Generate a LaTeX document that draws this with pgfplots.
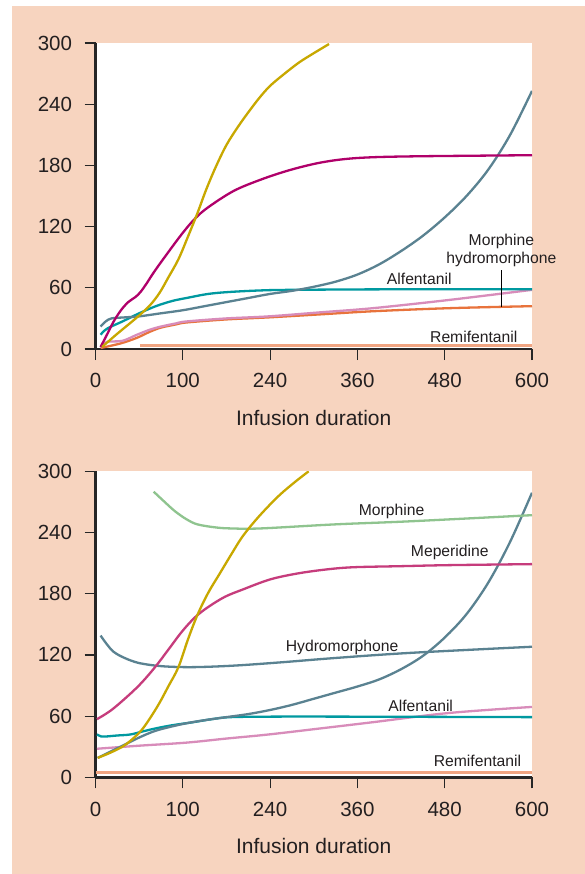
\documentclass[border=0pt]{standalone}
\usepackage{pgfplots}
\pgfplotsset{compat=1.18}
\usepackage{fontspec}
\setmainfont{Liberation Sans}
\definecolor{peach}{HTML}{F7D4BF}
\definecolor{textgray}{HTML}{231F20}
\definecolor{cyel}{HTML}{C8A800}
\definecolor{cmag}{HTML}{B0006A}
\definecolor{cmep}{HTML}{C63C7C}
\definecolor{cgray}{HTML}{5A8291}
\definecolor{cteal}{HTML}{0099A0}
\definecolor{cpink}{HTML}{D88CBA}
\definecolor{corange}{HTML}{E8733C}
\definecolor{cremi}{HTML}{F0A582}
\definecolor{cgreen}{HTML}{8FC48F}
\tikzset{lab/.style={font=\fontsize{15.7}{18}\selectfont, text=textgray}}
\pgfplotsset{
 myax/.style={
  scale only axis, width=436.5pt, height=306pt,
  xmin=0, xmax=600, ymin=0, ymax=300,
  clip mode=individual,
  axis lines=left, axis line style={-, line width=2.4pt, color=black!85},
  xtick={0,120,240,360,480,600}, xticklabels={0,100,240,360,480,600},
  ytick={0,60,120,180,240,300},
  tick align=outside, major tick length=11pt,
  tick style={line width=1.2pt, color=black!85},
  axis background/.style={fill=white},
  ticklabel style={font=\fontsize{20.5}{24}\selectfont, text=textgray},
  yticklabel style={xshift=-9pt},
  xticklabel style={yshift=-10pt},
  /pgf/number format/assume math mode=true,
  xlabel={Infusion duration},
  xlabel style={font=\fontsize{21}{24}\selectfont, text=textgray, yshift=-15pt},
  every axis plot/.append style={line width=2.3pt, smooth, tension=0.55},
 },
}
\begin{document}
\begin{tikzpicture}
\fill[white] (0pt,0pt) rectangle (585pt,-874pt);
\fill[peach] (12pt,-6pt) rectangle (585pt,-874pt);

\begin{axis}[myax, at={(95.5pt,-349pt)}, anchor=south west]
% Remifentanil
\addplot[cremi, line width=3pt] coordinates {(61,3) (600,3)};
% orange
\addplot[corange] coordinates {(7,1) (20,3) (37,6) (57,11) (75,17) (90,21) (110,24) (125,26) (180,29) (238,31) (310,34) (381,37) (485,40) (600,42)};
% pink
\addplot[cpink] coordinates {(7,2) (16,7) (37,8) (57,14) (75,19) (90,22) (110,25) (125,27) (180,30) (238,32) (310,36) (381,40) (485,48) (600,58)};
% teal
\addplot[cteal] coordinates {(7,14) (16,20) (37,27) (60,35) (83,42) (105,47) (125,50) (155,54) (186,56) (230,57.5) (270,58) (400,58.5) (600,58.5)};
% gray
\addplot[cgray] coordinates {(7,22) (14,27) (22,30) (40,31) (60,32) (90,35) (120,38) (150,42) (180,46) (210,50) (240,54) (270,57) (300,61) (330,66) (360,73) (390,83) (420,96) (450,111) (480,129) (510,150) (540,176) (570,210) (600,253)};
% magenta
\addplot[cmag] coordinates {(7,2) (15,13) (25,27) (35,38) (45,46) (55,51) (62,56) (70,64) (80,75) (95,90) (119,113) (137,128) (155,139) (190,155) (227,166) (265,175) (304,182) (340,186) (381,188) (450,189) (600,190)};
% yellow
\addplot[cyel] coordinates {(9,2) (30,15) (57,31) (75,43) (88,55) (100,70) (114,88) (127,110) (140,133) (152,156) (165,178) (180,200) (196,218) (210,232) (225,246) (240,258) (260,270) (280,281) (300,290) (321,299)};
% marker line
\addplot[black, line width=1.2pt, sharp plot] coordinates {(558,41) (558,77.5)};
\node[lab] at (axis cs:558,105) {Morphine};
\node[lab] at (axis cs:558,88) {hydromorphone};
\node[lab] at (axis cs:445,69) {Alfentanil};
\node[lab] at (axis cs:520,12) {Remifentanil};
\end{axis}

\begin{axis}[myax, at={(95.5pt,-777.3pt)}, anchor=south west]
\addplot[cremi, line width=3pt] coordinates {(0,5) (600,5)};
% pink
\addplot[cpink] coordinates {(2,28) (60,31) (125,34) (180,38) (238,42) (310,48) (381,54) (485,63) (600,69)};
% teal
\addplot[cteal] coordinates {(2,42) (8,40) (14,40) (30,41) (48,42) (65,45) (83,48) (105,51) (134,54) (160,57) (186,59) (250,59.5) (330,59.5) (600,59)};
% gray rising
\addplot[cgray] coordinates {(3,19) (20,25) (40,32) (60,39) (80,45) (100,49) (125,53) (150,56) (180,59) (210,62) (240,66) (270,71) (300,77) (330,83) (360,89) (390,96) (420,106) (450,119) (480,137) (510,160) (540,191) (570,231) (600,279)};
% hydromorphone
\addplot[cgray] coordinates {(7,139) (15,131) (25,123) (40,117) (60,112) (90,109) (125,108) (160,108.5) (202,110) (260,113) (330,117) (433,122) (600,128)};
% meperidine
\addplot[cmep] coordinates {(2,57) (22,66) (48,82) (65,94) (83,109) (100,125) (119,143) (137,157) (155,167) (178,177) (202,184) (240,194) (279,200) (320,204) (356,206) (420,207) (485,208) (600,209)};
% morphine
\addplot[cgreen] coordinates {(80,280) (95,270) (109,261) (125,253) (140,248) (165,245) (186,244) (227,244) (330,248) (433,251) (600,257)};
% yellow
\addplot[cyel] coordinates {(3,19) (20,24) (37,30) (50,37) (63,46) (75,58) (88,73) (100,89) (114,108) (127,135) (140,159) (155,181) (171,200) (187,219) (202,236) (220,252) (238,266) (255,278) (275,290) (293,300)};
\node[lab] at (axis cs:407,261) {Morphine};
\node[lab] at (axis cs:487,220) {Meperidine};
\node[lab] at (axis cs:339,127) {Hydromorphone};
\node[lab] at (axis cs:447,70) {Alfentanil};
\node[lab] at (axis cs:525,16) {Remifentanil};
\end{axis}
\end{tikzpicture}
\end{document}
